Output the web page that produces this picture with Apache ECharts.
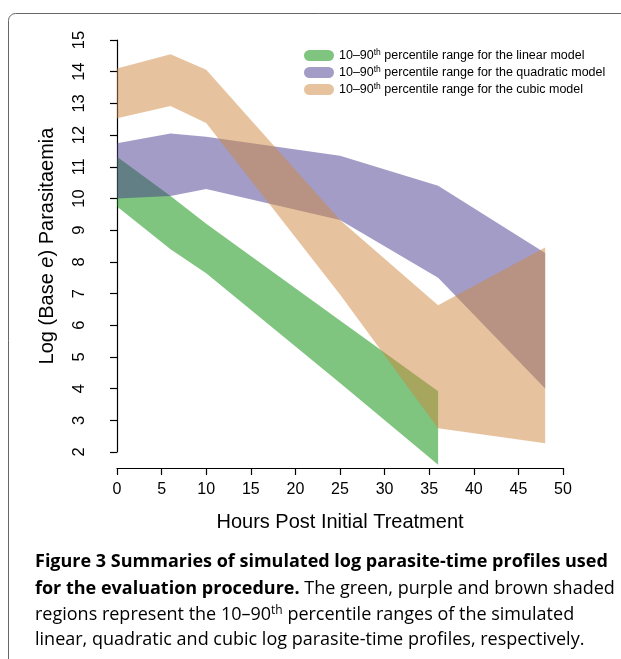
<!DOCTYPE html>
<html><head><meta charset="utf-8">
<script src="https://cdn.jsdelivr.net/npm/echarts@6/dist/echarts.min.js"></script>
<style>html,body{margin:0;padding:0;background:#fff}#c{width:621px;height:659px}</style>
</head><body><div id="c"></div>
<script>
// ---- data ----
const linearHours = [0, 6, 10, 25, 36];
const linearLower = [9.75, 8.4, 7.64, 4.18, 1.6];
const linearUpper = [11.32, 10.08, 9.2, 6.15, 3.92];

const quadHours = [0, 6, 10, 25, 36, 48];
const quadLower = [10.0, 10.08, 10.3, 9.32, 7.5, 4.0];
const quadUpper = [11.74, 12.05, 11.95, 11.35, 10.4, 8.28];

const cubicHours = [0, 6, 10, 25, 36, 48];
const cubicLower = [12.53, 12.92, 12.38, 6.97, 2.75, 2.28];
const cubicUpper = [14.1, 14.55, 14.06, 9.32, 6.63, 8.45];

const seriesNames = ['linear', 'quadratic', 'cubic'];
const legendLabels = {
  linear: '10–90{sup|th} percentile range for the linear model',
  quadratic: '10–90{sup|th} percentile range for the quadratic model',
  cubic: '10–90{sup|th} percentile range for the cubic model'
};

const solidColors = ['#7fc47f', '#a39cc6', '#e6c39e'];
const fillColors = ['rgba(0,137,0,0.5)', 'rgba(71,57,141,0.5)', 'rgba(205,135,61,0.5)'];

function bandRenderer(hours, lower, upper, fill) {
  return function (params, api) {
    if (params.dataIndex !== 0) return null;
    const pts = [];
    for (let i = 0; i < hours.length; i++) pts.push(api.coord([hours[i], upper[i]]));
    for (let i = hours.length - 1; i >= 0; i--) pts.push(api.coord([hours[i], lower[i]]));
    return { type: 'polygon', shape: { points: pts }, style: { fill: fill } };
  };
}

function bandSeries(name, hours, lower, upper, idx) {
  return {
    type: 'custom',
    name: name,
    data: hours.map((h, i) => [h, lower[i], upper[i]]),
    encode: { x: 0, y: [1, 2] },
    itemStyle: { color: solidColors[idx] },
    renderItem: bandRenderer(hours, lower, upper, fillColors[idx]),
    silent: true
  };
}

const capFont = 'Open Sans';
const axisColor = '#000';
const chart = echarts.init(document.getElementById('c'), null, { renderer: 'canvas' });
chart.setOption({
  animation: false,
  backgroundColor: '#fff',
  grid: { left: 117, right: 58, top: 40, bottom: 207 },
  legend: {
    left: 299, top: 43, orient: 'vertical',
    itemWidth: 30, itemHeight: 11, itemGap: 3,
    icon: 'path://M5.5,0H24.5A5.5,5.5,0,0,1,24.5,11H5.5A5.5,5.5,0,0,1,5.5,0Z',
    data: seriesNames,
    formatter: n => legendLabels[n],
    textStyle: {
      fontFamily: 'Liberation Sans', fontSize: 12.5, color: '#000',
      rich: { sup: { fontFamily: 'Liberation Sans', fontSize: 8.5, color: '#000', verticalAlign: 'top', padding: [0, 0, 6, 0] } }
    }
  },
  xAxis: {
    type: 'value', min: 0, max: 50, interval: 5, offset: 16,
    axisLine: { lineStyle: { color: axisColor, width: 1.2 } },
    axisTick: { length: 7, lineStyle: { color: axisColor, width: 1.2 } },
    splitLine: { show: false },
    axisLabel: { fontFamily: 'Liberation Sans', fontSize: 16, color: '#000', margin: 14 },
    name: 'Hours Post Initial Treatment', nameLocation: 'middle', nameGap: 44,
    nameTextStyle: { fontFamily: 'Liberation Sans', fontSize: 20, color: '#000' }
  },
  yAxis: {
    type: 'value', min: 2, max: 15, interval: 1, offset: 17,
    axisLine: { show: true, lineStyle: { color: axisColor, width: 1.2 } },
    axisTick: { show: true, length: 7, lineStyle: { color: axisColor, width: 1.2 } },
    splitLine: { show: false },
    axisLabel: { fontFamily: 'Liberation Sans', fontSize: 16.5, color: '#000', margin: 12, rotate: 90 },
    name: 'Log (Base {i|e}) Parasitaemia', nameLocation: 'middle', nameGap: 43,
    nameTextStyle: {
      fontFamily: 'Liberation Sans', fontSize: 20, color: '#000',
      rich: { i: { fontFamily: 'Liberation Sans', fontSize: 20, fontStyle: 'italic', color: '#000' } }
    }
  },
  series: [
    bandSeries('linear', linearHours, linearLower, linearUpper, 0),
    bandSeries('quadratic', quadHours, quadLower, quadUpper, 1),
    bandSeries('cubic', cubicHours, cubicLower, cubicUpper, 2)
  ],
  graphic: [
    { type: 'rect', silent: true, shape: { x: 8.5, y: 13.5, width: 800, height: 800, r: 7 },
      style: { fill: 'none', stroke: '#666', lineWidth: 1 } },
    { type: 'text', x: 35, y: 562, silent: true,
      style: { text: 'Figure 3 Summaries of simulated log parasite-time profiles used',
        font: 'bold 18px "' + capFont + '"', fill: '#000', verticalAlign: 'middle' } },
    { type: 'text', x: 35, y: 589, silent: true,
      style: { text: '{b|for the evaluation procedure.}{n| The green, purple and brown shaded}',
        verticalAlign: 'middle', fill: '#000',
        rich: { b: { font: 'bold 18px "' + capFont + '"', fill: '#000' }, n: { font: '18px "' + capFont + '"', fill: '#000' } } } },
    { type: 'text', x: 35, y: 615, silent: true,
      style: { text: '{n|regions represent the 10–90}{s|th}{n| percentile ranges of the simulated}',
        verticalAlign: 'middle', fill: '#000',
        rich: { n: { font: '18px "' + capFont + '"', fill: '#000' }, s: { font: '12px "' + capFont + '"', fill: '#000', verticalAlign: 'top', padding: [0, 0, 8, 0] } } } },
    { type: 'text', x: 35, y: 640, silent: true,
      style: { text: 'linear, quadratic and cubic log parasite-time profiles, respectively.',
        font: '18px "' + capFont + '"', fill: '#000', verticalAlign: 'middle' } }
  ]
});
</script></body></html>
